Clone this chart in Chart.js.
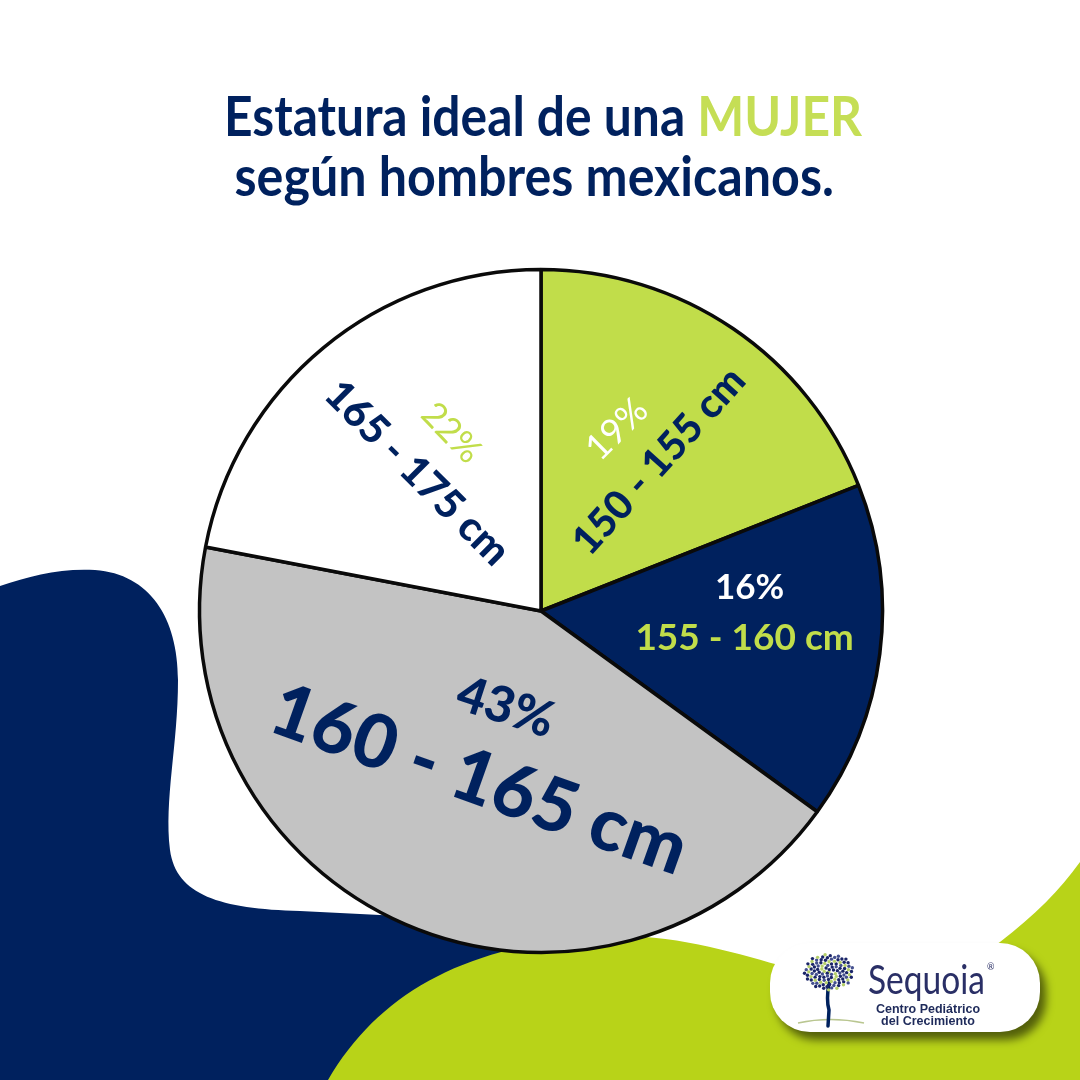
<!DOCTYPE html>
<html>
<head>
<meta charset="utf-8">
<script src="https://cdn.jsdelivr.net/npm/chart.js@4"></script>
<style>
  html, body { margin:0; padding:0; background:#ffffff; }
  #wrap { position:relative; width:1080px; height:1080px; overflow:hidden; }
  #c { position:absolute; left:0; top:0; }
  .tl { position:absolute; left:0; width:1080px; text-align:center; white-space:nowrap;
    font-family:Lato,"Open Sans",sans-serif; font-weight:700;
    font-size:56px; line-height:56px; color:#00215e; }
  .tl span.in { display:inline-block; transform-origin:50% 50%; }
  .hl { color:#c5de55; }
</style>
</head>
<body>
<div id="wrap">
  <canvas id="c" width="1080" height="1080"></canvas>
  <div class="tl" id="t1" style="top:87px"><span class="in" data-w="638" data-cx="543">Estatura ideal de una <span class="hl">MUJER</span></span></div>
  <div class="tl" id="t2" style="top:147px"><span class="in" data-w="599" data-cx="534">según hombres mexicanos.</span></div>
</div>
<script>
// ---- data ----
const categories = ["150 - 155 cm", "155 - 160 cm", "160 - 165 cm", "165 - 175 cm"];
const percentages = [19, 16, 43, 22];
const percentLabels = percentages.map(v => v + "%");

// ---- styles ----
const NAVY = "#00215e";
const PIE_GREEN = "#c1dd4a";
const BG_GREEN = "#b8d318";
const sliceColors = [PIE_GREEN, NAVY, "#c3c3c3", "#ffffff"];

// label layout per slice: polar position (deg from north, fraction of radius), rotation, font
const pctStyle = [
  { a: 22.3, r: 0.578, rot: -45, size: 36, weight: 400, color: "#ffffff" },
  { a: 83.2, r: 0.615, rot: 0, size: 35, weight: 700, color: "#ffffff" },
  { a: 200.2, r: 0.296, rot: 18, size: 50, weight: 900, color: NAVY },
  { a: 333.6, r: 0.585, rot: 46, size: 35, weight: 400, color: PIE_GREEN }
];
const catStyle = [
  { a: 37.8, r: 0.559, rot: -48, size: 40, weight: 900, color: NAVY },
  { a: 97.3, r: 0.601, rot: 0, size: 37, weight: 700, color: PIE_GREEN },
  { a: 200.1, r: 0.52, rot: 19.5, size: 74, weight: 900, color: NAVY },
  { a: 318.5, r: 0.543, rot: 45, size: 41, weight: 900, color: NAVY }
];

// fit title lines to the reference widths (condensed look)
document.querySelectorAll(".tl span.in").forEach(el => {
  const w = el.offsetWidth;
  const target = +el.dataset.w;
  const s = target / w;
  const cx = +el.dataset.cx;
  el.style.transform = "translateX(" + (cx - 540) + "px) scaleX(" + s + ")";
});

function drawBackground(ctx) {
  ctx.save();
  ctx.fillStyle = "#ffffff";
  ctx.fillRect(0, 0, 1080, 1080);
  // navy blob
  ctx.fillStyle = NAVY;
  ctx.beginPath();
  ctx.moveTo(0, 586);
  ctx.bezierCurveTo(30, 576, 60, 568, 95, 570);
  ctx.bezierCurveTo(150, 574, 178, 618, 178, 680);
  ctx.bezierCurveTo(178, 745, 164, 800, 170, 850);
  ctx.bezierCurveTo(176, 895, 220, 909, 300, 911);
  ctx.lineTo(580, 925);
  ctx.lineTo(580, 1080);
  ctx.lineTo(0, 1080);
  ctx.closePath();
  ctx.fill();
  // green wave
  ctx.fillStyle = BG_GREEN;
  ctx.beginPath();
  ctx.moveTo(328, 1080);
  ctx.bezierCurveTo(378, 995, 460, 948, 590, 937);
  ctx.bezierCurveTo(670, 931, 730, 952, 790, 968);
  ctx.bezierCurveTo(870, 988, 955, 975, 1000, 942);
  ctx.bezierCurveTo(1035, 915, 1060, 890, 1080, 862);
  ctx.lineTo(1080, 1080);
  ctx.closePath();
  ctx.fill();
  ctx.restore();
}

function drawLabel(ctx, cx, cy, R, text, s) {
  const ang = s.a * Math.PI / 180;
  const x = cx + Math.sin(ang) * s.r * R;
  const y = cy - Math.cos(ang) * s.r * R;
  ctx.save();
  ctx.translate(x, y);
  ctx.rotate(s.rot * Math.PI / 180);
  ctx.font = s.weight + " " + s.size + "px Lato, 'Open Sans', sans-serif";
  ctx.fillStyle = s.color;
  ctx.textAlign = "center";
  ctx.textBaseline = "alphabetic";
  ctx.fillText(text, 0, s.size * 0.36);
  ctx.restore();
}

function roundRect(ctx, x, y, w, h, r) {
  ctx.beginPath();
  ctx.moveTo(x + r, y);
  ctx.lineTo(x + w - r, y);
  ctx.arc(x + w - r, y + r, r, -Math.PI / 2, 0);
  ctx.lineTo(x + w, y + h - r);
  ctx.arc(x + w - r, y + h - r, r, 0, Math.PI / 2);
  ctx.lineTo(x + r, y + h);
  ctx.arc(x + r, y + h - r, r, Math.PI / 2, Math.PI);
  ctx.lineTo(x, y + r);
  ctx.arc(x + r, y + r, r, Math.PI, Math.PI * 1.5);
  ctx.closePath();
}

function drawLogo(ctx) {
  ctx.save();
  ctx.shadowColor = "rgba(0,0,0,0.55)";
  ctx.shadowOffsetX = 6;
  ctx.shadowOffsetY = 8;
  ctx.shadowBlur = 8;
  ctx.fillStyle = "#ffffff";
  roundRect(ctx, 770, 943, 270, 89, 40);
  ctx.fill();
  ctx.restore();

  ctx.save();
  ctx.strokeStyle = "#b9c690";
  ctx.lineWidth = 1.5;
  ctx.beginPath();
  ctx.moveTo(798, 1023);
  ctx.quadraticCurveTo(830, 1016, 864, 1023);
  ctx.stroke();
  ctx.strokeStyle = NAVY;
  ctx.lineCap = "round";
  ctx.lineWidth = 3.5;
  ctx.beginPath();
  ctx.moveTo(829, 983);
  ctx.quadraticCurveTo(826, 1000, 829, 1010);
  ctx.lineTo(828, 1026);
  ctx.stroke();
  const ccx = 829, ccy = 972;
  for (let i = 0; i < 110; i++) {
    const t = Math.sqrt(i / 110);
    const th = i * 2.39996;
    const x = ccx + Math.cos(th) * t * 25;
    const y = ccy + Math.sin(th) * t * 18;
    ctx.fillStyle = (i % 4 === 0) ? "#b5cf6a" : (i % 3 === 0 ? "#44508f" : "#1a2568");
    ctx.beginPath();
    ctx.arc(x, y, 1.7, 0, Math.PI * 2);
    ctx.fill();
  }
  ctx.fillStyle = "#2a2f66";
  ctx.font = "400 40px Lato, sans-serif";
  ctx.textBaseline = "alphabetic";
  ctx.textAlign = "left";
  const w = ctx.measureText("Sequoia").width;
  ctx.save();
  ctx.translate(868, 994);
  ctx.scale(117 / w, 1);
  ctx.fillText("Sequoia", 0, 0);
  ctx.restore();
  ctx.font = "9px Lato, sans-serif";
  ctx.fillText("®", 987, 970);
  ctx.fillStyle = "#1e2a5a";
  ctx.font = "bold 12.5px 'Liberation Sans', sans-serif";
  ctx.textAlign = "center";
  ctx.fillText("Centro Pediátrico", 928, 1013);
  ctx.fillText("del Crecimiento", 928, 1025);
  ctx.restore();
}

const decorPlugin = {
  id: "decor",
  beforeDraw(chart) { drawBackground(chart.ctx); },
  afterDatasetsDraw(chart) {
    const ctx = chart.ctx;
    const arc = chart.getDatasetMeta(0).data[0];
    const cx = arc.x, cy = arc.y, R = arc.outerRadius;
    percentages.forEach((v, i) => {
      drawLabel(ctx, cx, cy, R, percentLabels[i], pctStyle[i]);
      drawLabel(ctx, cx, cy, R, categories[i], catStyle[i]);
    });
  },
  afterDraw(chart) { drawLogo(chart.ctx); }
};

new Chart(document.getElementById("c"), {
  type: "pie",
  data: {
    labels: categories,
    datasets: [{
      data: percentages,
      backgroundColor: sliceColors,
      borderColor: "#0a0a0a",
      borderWidth: 3.5
    }]
  },
  options: {
    responsive: false,
    animation: false,
    layout: { padding: { left: 197.75, right: 195.75, top: 267.75, bottom: 125.75 } },
    plugins: { legend: { display: false }, tooltip: { enabled: false }, title: { display: false } }
  },
  plugins: [decorPlugin]
});
</script>
</body>
</html>
